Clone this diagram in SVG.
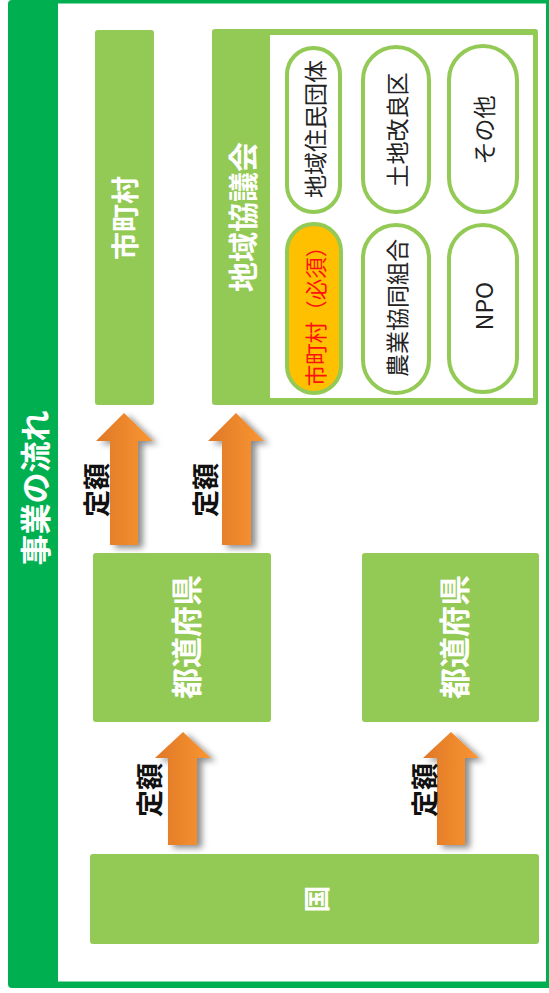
<svg xmlns="http://www.w3.org/2000/svg" width="549" height="993" viewBox="0 0 549 993">
<defs>
<style>
.node{fill:#93C955}
.wt{fill:#fff;font-family:"Noto Sans CJK JP",sans-serif;font-weight:bold;text-anchor:middle;dominant-baseline:central}
.bk{fill:#111;font-family:"Noto Sans CJK JP",sans-serif;font-weight:bold;text-anchor:middle;dominant-baseline:central;font-size:27px}
.pill{fill:#fff;stroke:#93C955;stroke-width:4}
.pt{fill:#222;font-family:"Noto Sans CJK JP",sans-serif;text-anchor:middle;dominant-baseline:central;font-size:23px}
.arrow{fill:url(#og);filter:url(#sh)}
</style>
<linearGradient id="og" x1="0" y1="0" x2="1" y2="0">
<stop offset="0" stop-color="#E07826"/>
<stop offset="1" stop-color="#F99632"/>
</linearGradient>
<filter id="sh" x="-40%" y="-20%" width="200%" height="150%">
<feDropShadow dx="5" dy="3" stdDeviation="3" flood-color="#000" flood-opacity="0.45"/>
</filter>
</defs>
<g id="frame">
<rect x="8" y="0" width="545" height="988" rx="4" fill="#00B050"/>
<rect x="58" y="3.5" width="488" height="978" fill="#fff"/>
<text class="wt" font-size="31" transform="translate(33,488) rotate(-90)">事業の流れ</text>
</g>
<g id="connectors">
<polygon class="arrow" points="124,413 153,441 138,441 138,545 110,545 110,441 96,441"/>
<text class="bk" transform="translate(95,490) rotate(-90)">定額</text>
<polygon class="arrow" points="236,413 264,441 251,441 251,545 222,545 222,441 208,441"/>
<text class="bk" transform="translate(204,490) rotate(-90)">定額</text>
<polygon class="arrow" points="183,732 211,758 197,758 197,845 168,845 168,758 155,758"/>
<text class="bk" transform="translate(148,790) rotate(-90)">定額</text>
<polygon class="arrow" points="451,732 479,758 465,758 465,845 437,845 437,758 423,758"/>
<text class="bk" transform="translate(423,790) rotate(-90)">定額</text>
</g>
<g id="node-shichoson">
<rect class="node" x="95" y="30" width="59" height="375" rx="3"/>
<text class="wt" font-size="28" transform="translate(124,218) rotate(-90)">市町村</text>
</g>
<g id="node-kyogikai">
<rect class="node" x="212" y="29" width="326" height="376" rx="3"/>
<rect x="270" y="35" width="263" height="363" fill="#fff"/>
<text class="wt" font-size="30" transform="translate(241,217) rotate(-90)">地域協議会</text>
</g>
<g id="pill-jumin">
<rect class="pill" x="287" y="48" width="53" height="164" rx="26.5"/>
<text class="pt" transform="translate(313.5,129) rotate(-90)">地域住民団体</text>
</g>
<g id="pill-tochi">
<rect class="pill" x="363" y="47" width="66" height="165" rx="33"/>
<text class="pt" transform="translate(396,130) rotate(-90)">土地改良区</text>
</g>
<g id="pill-sonota">
<rect class="pill" x="449" y="46" width="68" height="166" rx="34"/>
<text class="pt" transform="translate(483,130) rotate(-90)">その他</text>
</g>
<g id="pill-shichoson">
<rect class="pill" x="287" y="224" width="54" height="169" rx="27" style="fill:#FFC000"/>
<text class="pt" transform="translate(314,311) rotate(-90)" style="fill:#FF1010;font-size:21.5px">市町村（必須）</text>
</g>
<g id="pill-nokyo">
<rect class="pill" x="363" y="225" width="66" height="168" rx="33"/>
<text class="pt" transform="translate(396,308) rotate(-90)">農業協同組合</text>
</g>
<g id="pill-npo">
<rect class="pill" x="449" y="225" width="68" height="167" rx="34"/>
<text class="pt" transform="translate(483,306) rotate(-90)">NPO</text>
</g>
<g id="node-pref-left">
<rect class="node" x="93" y="553" width="178" height="169" rx="3"/>
<text class="wt" font-size="31" transform="translate(184,637) rotate(-90)">都道府県</text>
</g>
<g id="node-pref-right">
<rect class="node" x="362" y="553" width="177" height="169" rx="3"/>
<text class="wt" font-size="31" transform="translate(452,637) rotate(-90)">都道府県</text>
</g>
<g id="node-kuni">
<rect class="node" x="90" y="854" width="449" height="90" rx="3"/>
<text class="wt" font-size="27" transform="translate(315,899) rotate(-90)">国</text>
</g>
</svg>
